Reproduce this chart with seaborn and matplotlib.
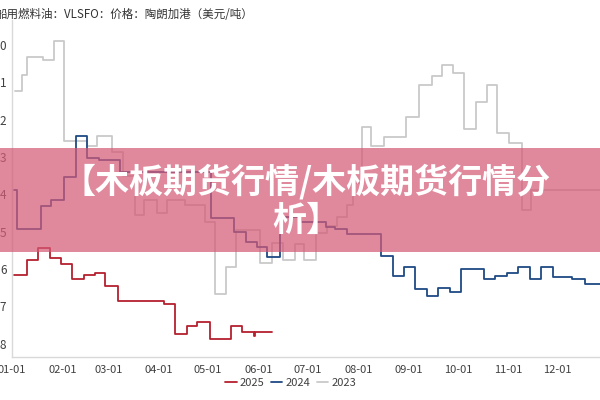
import matplotlib
matplotlib.use("Agg")
import pandas as pd
import matplotlib.pyplot as plt
import matplotlib.dates as mdates
from matplotlib.patches import Rectangle
import seaborn as sns

TITLE = "船用燃料油：VLSFO：价格：陶朗加港（美元/吨）"
BANNER = "【木板期货行情/木板期货行情分\n析】"

# y ticks (only last digit visible in the cropped original)
Y_TICKS = [0, 1, 2, 3, 4, 5, 6, 7, 8]
Y_LABELS = ["0", "1", "2", "3", "4", "5", "6", "7", "8"]

# step-change dates (MM-DD) and values per year
DATES_2025 = ["01-02", "01-10", "01-17", "01-24", "01-31", "02-07", "02-14",
              "02-21", "02-27", "03-07", "04-04", "04-11", "04-18", "04-24",
              "05-02", "05-09", "05-15", "05-22", "05-29", "05-30", "06-09"]
VALUES_2025 = [6.17, 5.76, 5.45, 5.72, 5.88, 6.26, 6.15,
               6.10, 6.47, 6.85, 6.94, 7.75, 7.53, 7.43,
               7.89, 7.87, 7.53, 7.69, 7.80, 7.69, 7.69]

DATES_2024 = ["01-02", "01-04", "01-19", "01-25", "02-02", "02-09", "02-16",
              "02-23", "03-08", "05-03", "05-17", "05-24", "05-31", "06-06",
              "06-14", "06-27", "07-12", "07-18", "07-25", "08-15", "08-22",
              "08-29", "09-05", "09-12", "09-19", "09-26", "10-03", "10-17",
              "10-24", "10-31", "11-07", "11-14", "11-21", "11-28", "12-10",
              "12-18", "12-31"]
VALUES_2024 = [3.89, 4.92, 4.31, 4.16, 3.53, 2.44, 3.02,
               3.08, 3.40, 4.64, 5.00, 5.28, 5.40, 5.67,
               4.62, 4.75, 4.89, 4.93, 5.07, 5.66, 6.19,
               5.96, 6.55, 6.72, 6.52, 6.61, 6.00, 6.26,
               6.19, 6.10, 5.96, 6.28, 5.96, 6.21, 6.28,
               6.41, 6.41]

DATES_2023 = ["01-03", "01-07", "01-10", "01-20", "01-27", "02-02", "02-16",
              "02-22", "03-03", "03-10", "03-17", "03-23", "03-31", "04-06",
              "04-17", "04-29", "05-05", "05-12", "05-18", "06-02", "06-09",
              "06-16", "06-23", "06-29", "07-06", "07-13", "07-19", "07-25",
              "07-29", "08-03", "08-09", "08-17", "08-30", "09-07", "09-15",
              "09-21", "09-28", "10-05", "10-12", "10-19", "10-25", "11-01",
              "11-09", "11-15", "12-31"]
VALUES_2023 = [1.22, 0.80, 0.33, 0.40, -0.12, 2.57, 2.70,
               2.44, 2.86, 3.50, 4.56, 4.16, 4.50, 4.16,
               4.28, 4.74, 6.66, 5.94, 4.96, 5.85, 5.30,
               5.76, 5.32, 5.76, 5.05, 4.85, 4.60, 4.30,
               3.70, 2.19, 2.71, 2.46, 1.94, 1.07, 0.83,
               0.54, 0.74, 2.26, 1.52, 1.07, 2.37, 2.62,
               4.41, 3.89, 3.89]

COLORS = {"2025": "#b5202e", "2024": "#1f4a85", "2023": "#c9c9c9"}


def to_frame(dates, values, year):
    return pd.DataFrame({
        "date": pd.to_datetime(["2001-" + d for d in dates]),
        "value": values,
        "year": year,
    })


df = pd.concat([
    to_frame(DATES_2023, VALUES_2023, "2023"),
    to_frame(DATES_2024, VALUES_2024, "2024"),
    to_frame(DATES_2025, VALUES_2025, "2025"),
], ignore_index=True)

sns.set_style("white")
plt.rcParams["font.family"] = ["Noto Sans CJK SC", "DejaVu Sans"]

fig = plt.figure(figsize=(6, 4), dpi=100)
ax = fig.add_axes([0.02, 0.1075, 0.98, 0.8425])

# draw 2023 first so the newer years sit on top
for year in ["2023", "2024", "2025"]:
    sns.lineplot(data=df[df["year"] == year], x="date", y="value",
                 color=COLORS[year], linewidth=1.3, drawstyle="steps-post",
                 estimator=None, label=year, ax=ax)

ax.set_xlim(pd.Timestamp("2001-01-01"), pd.Timestamp("2001-12-27"))
ax.set_ylim(8.36, -0.67)
ax.set_yticks(Y_TICKS)
ax.set_yticklabels(Y_LABELS)
ax.xaxis.set_major_locator(mdates.MonthLocator())
ax.xaxis.set_major_formatter(mdates.DateFormatter("%m-%d"))
ax.set_xlabel("")
ax.set_ylabel("")

for side in ["top", "right"]:
    ax.spines[side].set_visible(False)
for side in ["left", "bottom"]:
    ax.spines[side].set_color("#d9d9d9")
    ax.spines[side].set_linewidth(1.0)

ax.tick_params(axis="y", length=0, pad=4, labelsize=8.5, labelcolor="#404040")
ax.tick_params(axis="x", length=3, width=0.8, color="#d9d9d9", pad=3,
               labelsize=8, labelcolor="#404040")

# legend below, order 2025 / 2024 / 2023
handles, labels = ax.get_legend_handles_labels()
ax.get_legend().remove()
order = [labels.index(y) for y in ["2025", "2024", "2023"]]
fig.legend([handles[i] for i in order], [labels[i] for i in order],
           loc="center", bbox_to_anchor=(0.485, 0.0425), ncol=3,
           frameon=False, fontsize=8, handlelength=1.0, handletextpad=0.3,
           columnspacing=0.6, labelcolor="#404040")

fig.text(-0.008, 0.965, TITLE, ha="left", va="center", fontsize=8.3,
         color="#333333")

# translucent banner across the middle
fig.patches.append(Rectangle((0, 0.371), 1, 0.259, transform=fig.transFigure,
                             facecolor="#d45a76", alpha=0.72, zorder=5,
                             edgecolor="none"))
fig.text(0.51, 0.497, BANNER, ha="center", va="center", color="white",
         fontsize=24.5, fontweight="bold", linespacing=1.12, zorder=6)

fig.savefig("out.png", dpi=100)
